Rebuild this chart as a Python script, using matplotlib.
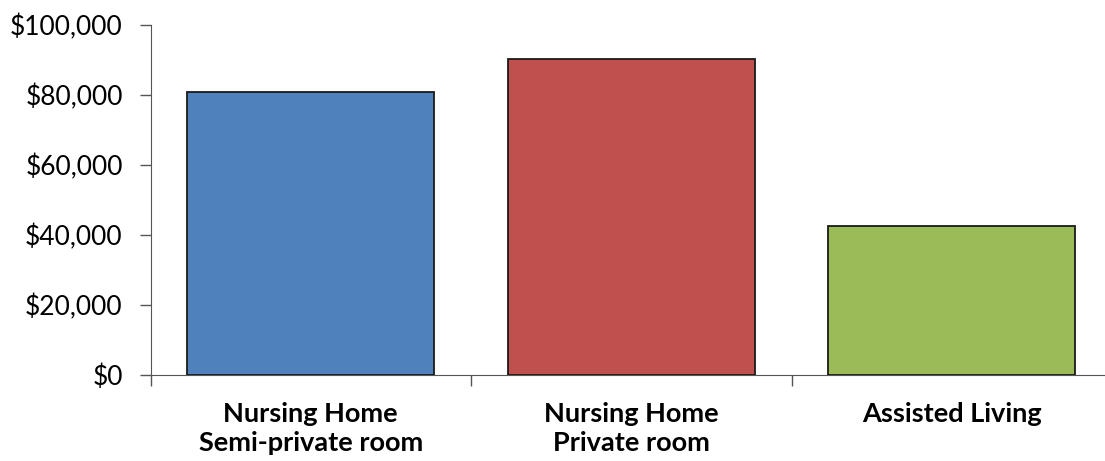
import matplotlib
matplotlib.use("Agg")
import matplotlib.pyplot as plt
from matplotlib.ticker import FuncFormatter

categories = ["Nursing Home\nSemi-private room", "Nursing Home\nPrivate room", "Assisted Living"]
costs = [80900, 90200, 42500]
colors = ["#4F81BD", "#C0504D", "#9BBB59"]
yticks = [0, 20000, 40000, 60000, 80000, 100000]

plt.rcParams['font.family'] = ['Lato', 'DejaVu Sans']

fig = plt.figure(figsize=(11.05, 4.61), dpi=100)
ax = fig.add_axes([150.5 / 1105, 86.5 / 461, 961.5 / 1105, 349.5 / 461])

x = range(len(categories))
ax.bar(x, costs, width=0.77, color=colors, edgecolor="#1a1a1a", linewidth=1.3, zorder=3)

ax.set_xlim(-0.5, 2.5)
ax.set_ylim(0, 100000)
ax.set_yticks(yticks)
ax.yaxis.set_major_formatter(FuncFormatter(lambda v, p: "${:,.0f}".format(v)))
ax.tick_params(axis="y", labelsize=19, length=8, width=1, color="#555555", pad=12)

# category boundaries as tick marks, labels centred under bars
ax.set_xticks([-0.5, 0.5, 1.5, 2.5])
ax.set_xticklabels([])
ax.set_xticks(list(x), minor=True)
ax.set_xticklabels(categories, minor=True, fontsize=19.5, fontweight="bold", linespacing=1.25)
ax.tick_params(axis="x", which="major", length=8, width=1, color="#555555", direction="out")
ax.tick_params(axis="x", which="minor", length=0, pad=20)

for s in ["top", "right"]:
    ax.spines[s].set_visible(False)
ax.spines["left"].set_color("#555555")
ax.spines["bottom"].set_color("#555555")

fig.savefig("out.png", dpi=100)
